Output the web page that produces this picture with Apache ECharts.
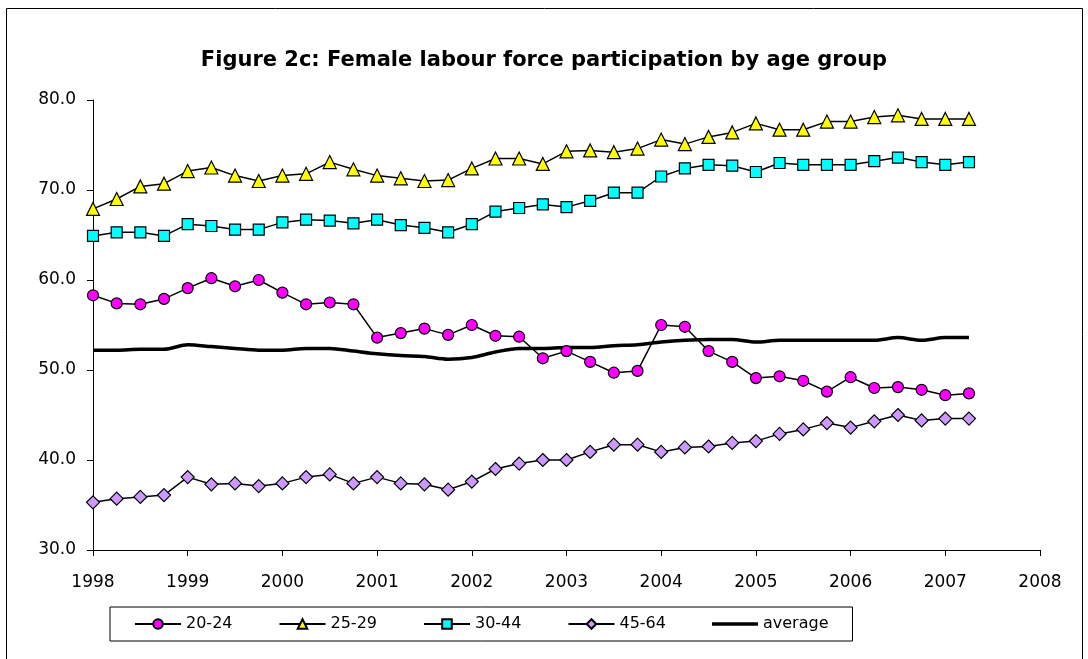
<!DOCTYPE html>
<html lang="en">
  <head>
    <meta charset="UTF-8" />
    <title>Female labour force participation</title>
    <script src="https://cdn.jsdelivr.net/npm/echarts@6/dist/echarts.min.js"></script>
  </head>
  <body style="margin: 0">
    <div id="main" style="width: 1088px; height: 659px"></div>
    <script type="text/javascript">
      // quarterly, 1998 Q1 .. 2007 Q2
      var startYear = 1998;
      var nQuarters = 38;
      var xTicks = [1998, 1999, 2000, 2001, 2002, 2003, 2004, 2005, 2006, 2007, 2008];

      var age2024 = [58.3, 57.4, 57.3, 57.9, 59.1, 60.2, 59.3, 60.0, 58.6, 57.3, 57.5, 57.3,
        53.6, 54.1, 54.6, 53.9, 55.0, 53.8, 53.7, 51.3, 52.1, 50.9, 49.7, 49.9,
        55.0, 54.8, 52.1, 50.9, 49.1, 49.3, 48.8, 47.6, 49.2, 48.0, 48.1, 47.8, 47.2, 47.4];
      var age2529 = [67.9, 69.0, 70.4, 70.7, 72.1, 72.5, 71.6, 71.0, 71.6, 71.8, 73.1, 72.3,
        71.6, 71.3, 71.0, 71.1, 72.4, 73.5, 73.5, 72.9, 74.3, 74.4, 74.2, 74.6,
        75.6, 75.1, 75.9, 76.4, 77.4, 76.7, 76.7, 77.6, 77.6, 78.1, 78.3, 77.9, 77.9, 77.9];
      var age3044 = [64.9, 65.3, 65.3, 64.9, 66.2, 66.0, 65.6, 65.6, 66.4, 66.7, 66.6, 66.3,
        66.7, 66.1, 65.8, 65.3, 66.2, 67.6, 68.0, 68.4, 68.1, 68.8, 69.7, 69.7,
        71.5, 72.4, 72.8, 72.7, 72.0, 73.0, 72.8, 72.8, 72.8, 73.2, 73.6, 73.1, 72.8, 73.1];
      var age4564 = [35.3, 35.7, 35.9, 36.1, 38.1, 37.3, 37.4, 37.1, 37.4, 38.1, 38.4, 37.4,
        38.1, 37.4, 37.3, 36.7, 37.6, 39.0, 39.6, 40.0, 40.0, 40.9, 41.7, 41.7,
        40.9, 41.4, 41.5, 41.9, 42.1, 42.9, 43.4, 44.1, 43.6, 44.3, 45.0, 44.4, 44.6, 44.6];
      var average = [52.2, 52.2, 52.3, 52.3, 52.8, 52.6, 52.4, 52.2, 52.2, 52.4, 52.4, 52.1,
        51.8, 51.6, 51.5, 51.2, 51.4, 52.0, 52.4, 52.4, 52.5, 52.5, 52.7, 52.8,
        53.1, 53.3, 53.4, 53.4, 53.1, 53.3, 53.3, 53.3, 53.3, 53.3, 53.6, 53.3, 53.6, 53.6];

      var times = [];
      for (var i = 0; i < nQuarters; i++) times.push(startYear + i * 0.25);
      function pairs(vals) {
        return vals.map(function (v, i) { return [times[i], v]; });
      }

      var font = "DejaVu Sans";
      var myChart = echarts.init(document.getElementById("main"));

      function markerSeries(name, vals, symbol, size, color) {
        return {
          name: name,
          type: "line",
          data: pairs(vals),
          symbol: symbol,
          symbolSize: size,
          showAllSymbol: true,
          lineStyle: { color: "#000", width: 1.5 },
          itemStyle: { color: color, borderColor: "#000", borderWidth: 1.2 },
          emphasis: { disabled: true },
        };
      }

      var option = {
        animation: false,
        backgroundColor: "#fff",
        title: {
          text: "Figure 2c: Female labour force participation by age group",
          left: "center",
          top: 45,
          textStyle: { fontFamily: font, fontWeight: "bold", fontSize: 21, color: "#000" },
        },
        grid: { left: 93, right: 48, top: 100, bottom: 109 },
        legend: {
          left: 110,
          top: 607,
          padding: [9, 24, 9, 24],
          itemGap: 46,
          itemWidth: 46,
          itemHeight: 12,
          borderColor: "#000",
          borderWidth: 1,
          borderRadius: 0,
          textStyle: { fontFamily: font, fontSize: 16, color: "#000" },
          data: [
            "20-24", "25-29", "30-44", "45-64",
            { name: "average", icon: "path://M0,5 L46,5 L46,8.5 L0,8.5 Z" },
          ],
        },
        xAxis: {
          type: "value",
          min: xTicks[0],
          max: xTicks[xTicks.length - 1],
          interval: 1,
          axisLine: { onZero: false, lineStyle: { color: "#000", width: 1 } },
          axisTick: { show: true, length: 6, lineStyle: { color: "#000" } },
          axisLabel: {
            fontFamily: font, fontSize: 17, color: "#000", margin: 24,
            formatter: function (v) { return String(v); },
          },
          splitLine: { show: false },
        },
        yAxis: {
          type: "value",
          min: 30,
          max: 80,
          interval: 10,
          axisLine: { show: true, lineStyle: { color: "#000", width: 1 } },
          axisTick: { show: true, length: 6, lineStyle: { color: "#000" } },
          axisLabel: {
            fontFamily: font, fontSize: 17, color: "#000", margin: 17,
            formatter: function (v) { return v.toFixed(1); },
          },
          splitLine: { show: false },
        },
        series: [
          markerSeries("20-24", age2024, "circle", 11, "#FF00FF"),
          markerSeries("25-29", age2529, "triangle", 13, "#FFFF00"),
          markerSeries("30-44", age3044, "rect", 11, "#00FFFF"),
          markerSeries("45-64", age4564, "diamond", 13, "#CC99FF"),
          {
            name: "average",
            type: "line",
            data: pairs(average),
            symbol: "none",
            smooth: 0.3,
            lineStyle: { color: "#000", width: 3.5 },
            itemStyle: { color: "#000" },
            emphasis: { disabled: true },
          },
        ],
        graphic: [
          {
            type: "rect",
            shape: { x: 6.5, y: 8.5, width: 1076, height: 660 },
            style: { fill: null, stroke: "#000", lineWidth: 1 },
            silent: true,
          },
        ],
      };
      myChart.setOption(option);
    </script>
  </body>
</html>
